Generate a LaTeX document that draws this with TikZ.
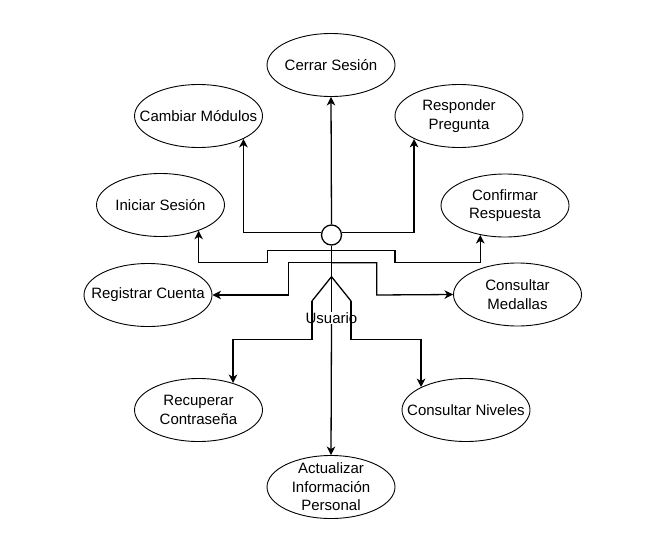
\documentclass[tikz,border=0pt]{standalone}
\usepackage{fontspec}
\setmainfont{Liberation Sans}
\usetikzlibrary{shapes.geometric}
\usetikzlibrary{arrows.meta}
\newcommand{\ucfont}{\fontsize{15}{18.5}\selectfont}
\tikzset{usecase/.style={ellipse,draw=black,line width=0.9pt,minimum width=128pt,minimum height=63pt,inner sep=0pt,
  label={[align=center,font=\ucfont,inner sep=0pt]center:{#1}}}}
\tikzstyle{assoc} = [-{Stealth[length=8.5pt,width=8.5pt,inset=2.5pt]},line width=1.3pt]
\tikzstyle{stick} = [line width=1.3pt]

\begin{document}
\begin{tikzpicture}[x=1pt,y=-1pt]
\useasboundingbox (0,0) rectangle (663,557);

% Define nodes
\node[usecase={Cerrar Sesión}]                     (cerrar)     at (331,65)    {};
\node[usecase={Cambiar Módulos}]                   (cambiar)    at (198.5,116) {};
\node[usecase={Responder\\Pregunta}]               (responder)  at (459,116)   {};
\node[usecase={Iniciar Sesión}]                    (iniciar)    at (160.5,205) {};
\node[usecase={Confirmar\\Respuesta}]              (confirmar)  at (505,205.5) {};
\node[usecase={Registrar Cuenta}]                  (registrar)  at (148,295)   {};
\node[usecase={Consultar\\Medallas}]               (medallas)   at (517.5,294.5) {};
\node[usecase={Recuperar\\Contraseña}]             (recuperar)  at (198.5,410) {};
\node[usecase={Consultar Niveles}]                 (niveles)    at (466,410)   {};
\node[usecase={Actualizar\\Información\\Personal}] (actualizar) at (331,487)   {};

% Actor
\node[circle,draw,stick,minimum size=20pt,inner sep=0pt] (head) at (331.5,235) {};
\coordinate (arms)  at (331.5,250.3);
\coordinate (chest) at (331.5,262.7);
\coordinate (hip)   at (331.5,276.7);
\coordinate (lfoot) at (312,301);
\coordinate (rfoot) at (351,301);
\draw[stick] (312,250.3) -- (351,250.3);
\draw[stick] (lfoot) -- (hip) -- (rfoot);
\node[font=\ucfont, fill=white, inner sep=0.5pt] (usuario) at (331.5,318) {Usuario};

% Edges
\draw[assoc] (head.north) -- (cerrar.south);
\draw[stick] (head.south) -- (usuario.north);
\draw[assoc] (usuario.south) -- (actualizar.north);
\draw[assoc] (head.168) -| (cambiar.-27);
\draw[assoc] (head.12)  -| (responder.207);
\draw[assoc] (arms) -| (267.7,262.7) -| (iniciar.-34);
\draw[assoc] (arms) -| (395,262.7)   -| (confirmar.230);
\draw[assoc] (chest) -| (288.3,295) -- (registrar.east);
\draw[assoc] (chest) -| (376.7,295) -- (medallas.west);
\draw[assoc] (lfoot) -- ++(0,38.5) -| (recuperar.38);
\draw[assoc] (rfoot) -- ++(0,38.5) -| (niveles.153);
\end{tikzpicture}
\end{document}
